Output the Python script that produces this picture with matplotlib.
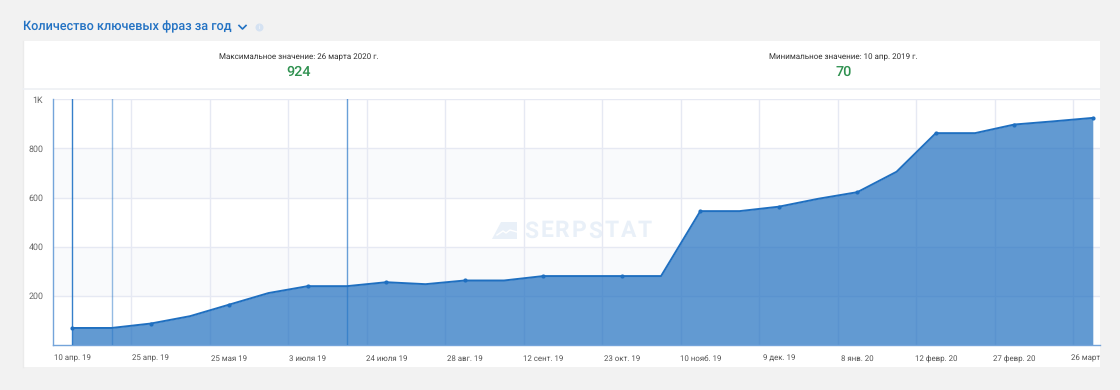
import matplotlib
matplotlib.use("Agg")
import matplotlib.pyplot as plt
from matplotlib.transforms import Bbox
from matplotlib.patches import Rectangle, Polygon, Circle
from matplotlib.textpath import TextPath
from matplotlib.font_manager import FontProperties

plt.rcParams['font.family'] = ['Roboto', 'DejaVu Sans']
plt.rcParams['text.hinting'] = 'no_hinting'
plt.rcParams['text.hinting_factor'] = 8

TITLE = "Количество ключевых фраз за год"
MAX_LABEL = "Максимальное значение: 26 марта 2020 г."
MIN_LABEL = "Минимальное значение: 10 апр. 2019 г."
MAX_VALUE = "924"
MIN_VALUE = "70"
WATERMARK = "SERPSTAT"

values = [70, 70, 88, 118, 165, 212, 240, 240, 256, 248, 263, 263, 281, 281,
          281, 281, 545, 545, 563, 595, 622, 705, 862, 862, 897, 910, 924]
tick_labels = ["10 апр. 19", "25 апр. 19", "25 мая 19", "3 июля 19", "24 июля 19",
               "28 авг. 19", "12 сент. 19", "23 окт. 19", "10 нояб. 19", "9 дек. 19",
               "8 янв. 20", "12 февр. 20", "27 февр. 20", "26 марта 20"]
y_ticks = [200, 400, 600, 800, 1000]
y_tick_labels = ["200", "400", "600", "800", "1K"]
bands = [(200, 400), (600, 800)]
marked_lines = [(0, 0.95), (1, 0.5), (7, 0.7)]

W, H = 1120, 390
BG = "#f2f2f2"
BLUE = "#1f6fc0"
GRID = "#e6e9f3"
WM = "#e9f0f8"

fig = plt.figure(figsize=(W / 100, H / 100), dpi=100, facecolor=BG)

# page layer in pixel coordinates
page = fig.add_axes([0, 0, 1, 1], zorder=0)
page.set_xlim(0, W)
page.set_ylim(H, 0)
page.axis("off")
page.add_patch(Rectangle((23, 41), 1077, 325.5, fc="white", ec="none"))
page.plot([23, 23], [41, 366.5], color="#ebebeb", lw=1)
page.plot([23, 1100], [89, 89], color="#eef0f4", lw=1.2)
page.text(23, 27, TITLE, color="#2272c3", fontsize=9.05, fontweight="medium",
          va="center", ha="left")
page.plot([239, 242.5, 246], [25.5, 29, 25.5], color="#2272c3", lw=1.2)
page.add_patch(Circle((259.5, 27.5), 4, fc="#d5e2f2", ec="none"))
page.text(259.5, 27.5, "i", color="white", fontsize=4.5, ha="center", va="center")
page.text(298.5, 57, MAX_LABEL, color="#333333", fontsize=5.75, ha="center", va="center")
page.text(298.5, 72.5, MAX_VALUE, color="#2f9150", fontsize=10.4, fontweight="medium",
          ha="center", va="center")
page.text(843.5, 57, MIN_LABEL, color="#333333", fontsize=5.75, ha="center", va="center")
page.text(843.5, 72.5, MIN_VALUE, color="#2f9150", fontsize=10.4, fontweight="medium",
          ha="center", va="center")

# chart layer
STEP = (1093 - 72.5) / 26
ax = fig.add_axes([53 / W, (H - 345.2) / H, 1047 / W, 246.5 / H], zorder=1)
ax.patch.set_alpha(0)
ax.set_xlim(-(72.3 - 53) / STEP, (1100 - 72.3) / STEP)
ax.set_ylim(0, 1002)
idx = list(range(len(values)))

for lo, hi in bands:
    ax.axhspan(lo, hi, color="#f9fafc", lw=0, zorder=0)
ax.set_yticks(y_ticks, y_tick_labels)
ax.set_xticks(idx[::2], tick_labels)
ax.set_xticks([i + 1.5 for i in idx[::2][:-1]], minor=True)
ax.grid(axis="y", color=GRID, lw=1, zorder=1)
ax.grid(axis="x", which="minor", color=GRID, lw=1, zorder=1)
ax.set_axisbelow(True)
ax.tick_params(axis="both", which="both", length=0)
ax.tick_params(axis="x", colors="#555555", labelsize=5.7, pad=11.2)
ax.tick_params(axis="y", colors="#666666", labelsize=6.4, pad=7)

for side in ("top", "right"):
    ax.spines[side].set_visible(False)
for side in ("left", "bottom"):
    ax.spines[side].set_color("#74a4da")
    ax.spines[side].set_linewidth(1)

# watermark, letter-spaced from 524 to 652 px
fp = FontProperties(family="Roboto", weight="bold")
size_pt = 16.5
adv = [TextPath((0, 0), c + "H", size=size_pt * 100 / 72, prop=fp).get_extents().x1
       - TextPath((0, 0), "H", size=size_pt * 100 / 72, prop=fp).get_extents().x1
       for c in WATERMARK]
gap = (128 - sum(adv)) / (len(WATERMARK) - 1)
xpos = 524
for c, a in zip(WATERMARK, adv):
    page.text(xpos, 231, c, color=WM, fontsize=size_pt,
              fontfamily="Roboto", fontweight="bold", ha="left", va="center")
    xpos += a + gap
page.add_patch(Polygon([(492, 239), (501, 222), (517, 222), (517, 239)], fc=WM, ec="none"))
page.plot([497, 503, 506, 510, 517], [235, 231, 233, 230, 232], color="white", lw=1)

ax.fill_between(idx, values, 0, color="#1f6fc0", alpha=0.7, lw=0, zorder=2)
for i, a in marked_lines:
    ax.axvline(i, color="#2a78c8", alpha=a, lw=1, zorder=3)
ax.plot(idx, values, color=BLUE, lw=1.4, zorder=4, solid_joinstyle="round")
ax.plot(idx[::2], values[::2], "o", color=BLUE, ms=3, mew=0, zorder=5)

clip = Bbox([[0, 0], [1100, H]])
for lab in ax.get_xticklabels():
    lab.set_verticalalignment("baseline")
    lab.set_clip_on(True)
    lab.set_clip_box(clip)

fig.savefig("out.png", dpi=100, facecolor=BG)
